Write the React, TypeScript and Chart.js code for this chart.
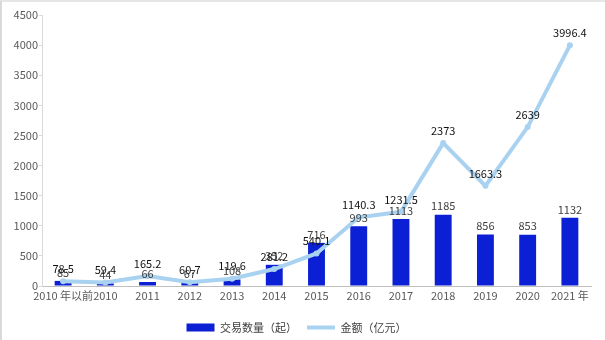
import React, { useEffect, useRef } from "react";
import { Chart, registerables } from "chart.js";

Chart.register(...registerables);

const categories = ["2010 年以前", "2010", "2011", "2012", "2013", "2014", "2015", "2016", "2017", "2018", "2019", "2020", "2021 年"];
const dealCounts = [85, 44, 66, 67, 108, 352, 716, 993, 1113, 1185, 856, 853, 1132];
const amounts = [78.5, 59.4, 165.2, 60.7, 119.6, 281.2, 540.1, 1140.3, 1231.5, 2373, 1663.3, 2639, 3996.4];
const yTicks = [0, 500, 1000, 1500, 2000, 2500, 3000, 3500, 4000, 4500];

const FONT = '"Noto Sans CJK SC", "Noto Sans", sans-serif';
const BAR_COLOR = "#0B1FD4";
const LINE_COLOR = "#A9D2F1";

const labelPlugin = {
  id: "valueLabels",
  afterDatasetsDraw(chart: any) {
    const ctx = chart.ctx;
    ctx.save();
    ctx.font = `11px ${FONT}`;
    ctx.textAlign = "center";
    ctx.textBaseline = "bottom";
    chart.data.datasets.forEach((ds: any, di: number) => {
      const meta = chart.getDatasetMeta(di);
      ctx.fillStyle = ds.type === "bar" ? "#404040" : "#111111";
      meta.data.forEach((el: any, i: number) => {
        const v = ds.data[i];
        const y = ds.type === "bar" ? el.y - 3 : el.y - 7;
        ctx.fillText(String(v), el.x, y);
      });
    });
    ctx.restore();
  },
};

const legendHeightPlugin = {
  id: "legendHeight",
  beforeLayout(chart: any) {
    const lg = chart.legend;
    if (lg && !lg._patched) {
      const orig = lg.fit.bind(lg);
      lg.fit = function () {
        orig();
        this.height = 28;
      };
      lg._patched = true;
    }
  },
};

export default function App() {
  const ref = useRef<HTMLCanvasElement>(null);
  useEffect(() => {
    document.body.style.margin = "0";
    const chart = new Chart(ref.current as HTMLCanvasElement, {
      type: "bar",
      data: {
        labels: categories,
        datasets: [
          {
            type: "bar",
            label: "交易数量（起）",
            data: dealCounts,
            backgroundColor: BAR_COLOR,
            borderWidth: 0,
            barPercentage: 0.8,
            categoryPercentage: 0.5,
            order: 2,
          } as any,
          {
            type: "line",
            label: "金额（亿元）",
            data: amounts,
            borderColor: LINE_COLOR,
            backgroundColor: LINE_COLOR,
            borderWidth: 4,
            pointRadius: 3,
            pointBorderWidth: 0,
            pointBackgroundColor: LINE_COLOR,
            pointBorderColor: LINE_COLOR,
            pointStyle: "circle",
            tension: 0,
            order: 1,
          } as any,
        ],
      },
      options: {
        animation: false,
        responsive: false,
        maintainAspectRatio: false,
        layout: { padding: { left: 0, right: 14, top: 13, bottom: 0 } },
        plugins: {
          tooltip: { enabled: false },
          legend: {
            position: "bottom",
            labels: {
              font: { family: FONT, size: 11 },
              color: "#404040",
              usePointStyle: true,
              pointStyleWidth: 28,
              boxHeight: 8,
              padding: 10,
              sort: (a: any, b: any) => a.datasetIndex - b.datasetIndex,
              generateLabels: (chart: any) => {
                const items = Chart.defaults.plugins.legend.labels.generateLabels(chart);
                items.forEach((it: any) => {
                  if (it.datasetIndex === 0) {
                    it.pointStyle = "rect";
                    it.fillStyle = BAR_COLOR;
                    it.strokeStyle = BAR_COLOR;
                    it.lineWidth = 0;
                  } else {
                    it.pointStyle = "line";
                    it.strokeStyle = LINE_COLOR;
                    it.lineWidth = 4;
                  }
                });
                return items;
              },
            },
          },
        },
        scales: {
          x: {
            grid: { display: false, drawTicks: false },
            border: { color: "#BFBFBF" },
            ticks: {
              autoSkip: false,
              maxRotation: 0,
              color: "#595959",
              font: { family: FONT, size: 11 },
              padding: 3,
            },
            afterFit: (s: any) => {
              s.height = 26;
            },
          },
          y: {
            min: 0,
            max: 4500,
            afterBuildTicks: (s: any) => {
              s.ticks = yTicks.map((v) => ({ value: v }));
            },
            grid: { drawOnChartArea: false, drawTicks: true, tickLength: 3, color: "#D9D9D9" },
            border: { color: "#D9D9D9" },
            ticks: {
              color: "#595959",
              font: { family: FONT, size: 11 },
              padding: 1,
              callback: (v: any) => String(v),
            },
            afterFit: (s: any) => {
              s.width = 40;
            },
          },
        },
      },
      plugins: [labelPlugin, legendHeightPlugin],
    } as any);
    return () => chart.destroy();
  }, []);
  return (
    <div
      style={{
        position: "absolute",
        left: 0,
        top: 0,
        width: 605,
        height: 340,
        boxSizing: "border-box",
        borderLeft: "2px solid #D9D9D9",
        borderTop: "2px solid #E6E6E6",
        background: "#fff",
      }}
    >
      <canvas ref={ref} width={603} height={338} style={{ display: "block" }} />
    </div>
  );
}
